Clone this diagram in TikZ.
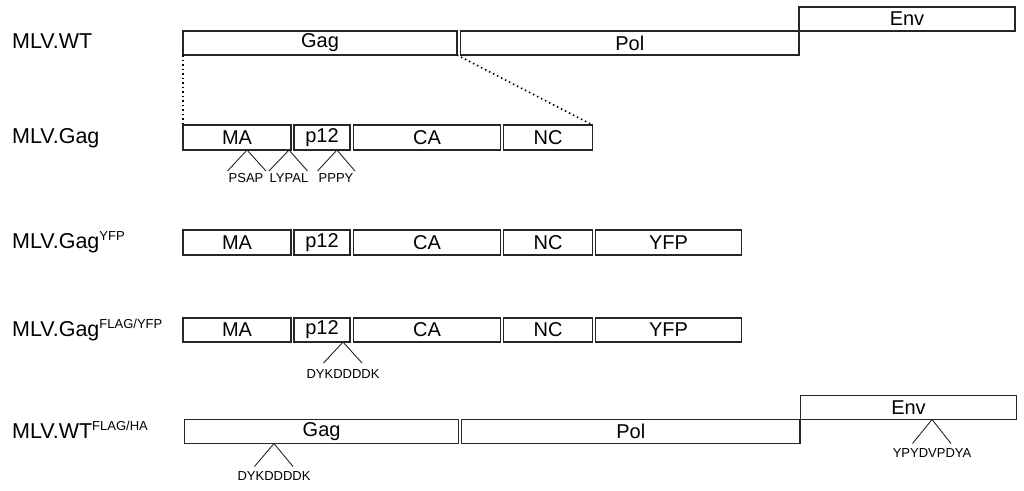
\documentclass[tikz,border=0pt]{standalone}
\usepackage{fontspec}
\setmainfont{Liberation Sans}
\begin{document}
\begin{tikzpicture}[x=1pt,y=-1pt,
  box/.style={draw=black!85,line width=1.2pt,inner sep=0pt,outer sep=0pt,minimum height=24pt,
    font=\fontsize{20}{20}\selectfont},
  rowlabel/.style={anchor=base west,inner sep=0pt,font=\fontsize{21.5}{22}\selectfont},
  motif/.style={anchor=base,inner sep=0pt,font=\fontsize{13}{14}\selectfont},
  leg/.style={draw=black!85,line width=0.9pt},
  zoomline/.style={draw=black,line width=1.6pt,dash pattern=on 1.5pt off 3pt}]
\path[use as bounding box] (0,0) rectangle (1024,490);
\newcommand{\supx}[1]{\raisebox{7.5pt}{\fontsize{13}{13}\selectfont #1}}

% Row 1: MLV.WT
\node[rowlabel] (l1) at (12,48) {MLV.WT};
\node[box,minimum width=274pt] (gag1) at (320,43) {Gag};
\node[box,minimum width=338.5pt] (pol1) at (629.75,43) {Pol};
\node[box,minimum width=216pt] (env1) at (907,19) {Env};

% Row 2: MLV.Gag
\node[rowlabel] (l2) at (12,143.5) {MLV.Gag};
\node[box,minimum width=108pt,minimum height=25pt] (ma2) at (237,137.5) {MA};
\node[box,minimum width=56pt,minimum height=25pt] (p122) at (322,137.5) {p12};
\node[box,minimum width=147pt,minimum height=25pt] (ca2) at (427,137.5) {CA};
\node[box,minimum width=89pt,minimum height=25pt] (nc2) at (548,137.5) {NC};

\draw[zoomline] (gag1.south west) -- (ma2.north west);
\draw[zoomline] (gag1.south east) -- (nc2.north east);

\node[motif] (psap) at (246,182.5) {PSAP};
\node[motif] (lypal) at (289,182.5) {LYPAL};
\node[motif] (pppy) at (336,182.5) {PPPY};
\coordinate (a1) at (247,150);
\coordinate (a2) at (289,150);
\coordinate (a3) at (337,150);
\draw[leg] (227.5,171) -- (a1) -- (266,171);
\draw[leg] (269,171) -- (a2) -- (307.5,171);
\draw[leg] (317.5,171) -- (a3) -- (355,171);

% Row 3: MLV.Gag^YFP
\node[rowlabel] (l3) at (12,248) {MLV.Gag\supx{YFP}};
\node[box,minimum width=108pt,minimum height=25pt] (ma3) at (237,242.5) {MA};
\node[box,minimum width=56pt,minimum height=25pt] (p123) at (322,242.5) {p12};
\node[box,minimum width=147pt,minimum height=25pt] (ca3) at (427,242.5) {CA};
\node[box,minimum width=89pt,minimum height=25pt] (nc3) at (548,242.5) {NC};
\node[box,minimum width=146pt,minimum height=25pt] (yfp3) at (668.5,242.5) {YFP};

% Row 4: MLV.Gag^FLAG/YFP
\node[rowlabel] (l4) at (12,336) {MLV.Gag\supx{FLAG/YFP}};
\node[box,minimum width=108pt] (ma4) at (237,330) {MA};
\node[box,minimum width=56pt] (p124) at (322,330) {p12};
\node[box,minimum width=147pt] (ca4) at (427,330) {CA};
\node[box,minimum width=89pt] (nc4) at (548,330) {NC};
\node[box,minimum width=146pt] (yfp4) at (668.5,330) {YFP};
\node[motif] (flag4) at (343,378.5) {DYKDDDDK};
\coordinate (a4) at (343,342);
\draw[leg] (323.5,363) -- (a4) -- (362,363);

% Row 5: MLV.WT^FLAG/HA
\node[rowlabel] (l5) at (12,438) {MLV.WT\supx{FLAG/HA}};
\node[box,minimum width=274.5pt] (gag5) at (321.6,431.5) {Gag};
\node[box,minimum width=338.3pt] (pol5) at (630.8,431.5) {Pol};
\node[box,minimum width=216pt] (env5) at (908.5,407.2) {Env};
\node[motif] (flag5) at (274,480.5) {DYKDDDDK};
\node[motif] (ha5) at (932,457) {YPYDVPDYA};
\coordinate (a5) at (274,443.5);
\coordinate (a6) at (932,419.5);
\draw[leg] (254.5,466.5) -- (a5) -- (293,466.5);
\draw[leg] (912.5,443.5) -- (a6) -- (951,443.5);
\end{tikzpicture}
\end{document}
